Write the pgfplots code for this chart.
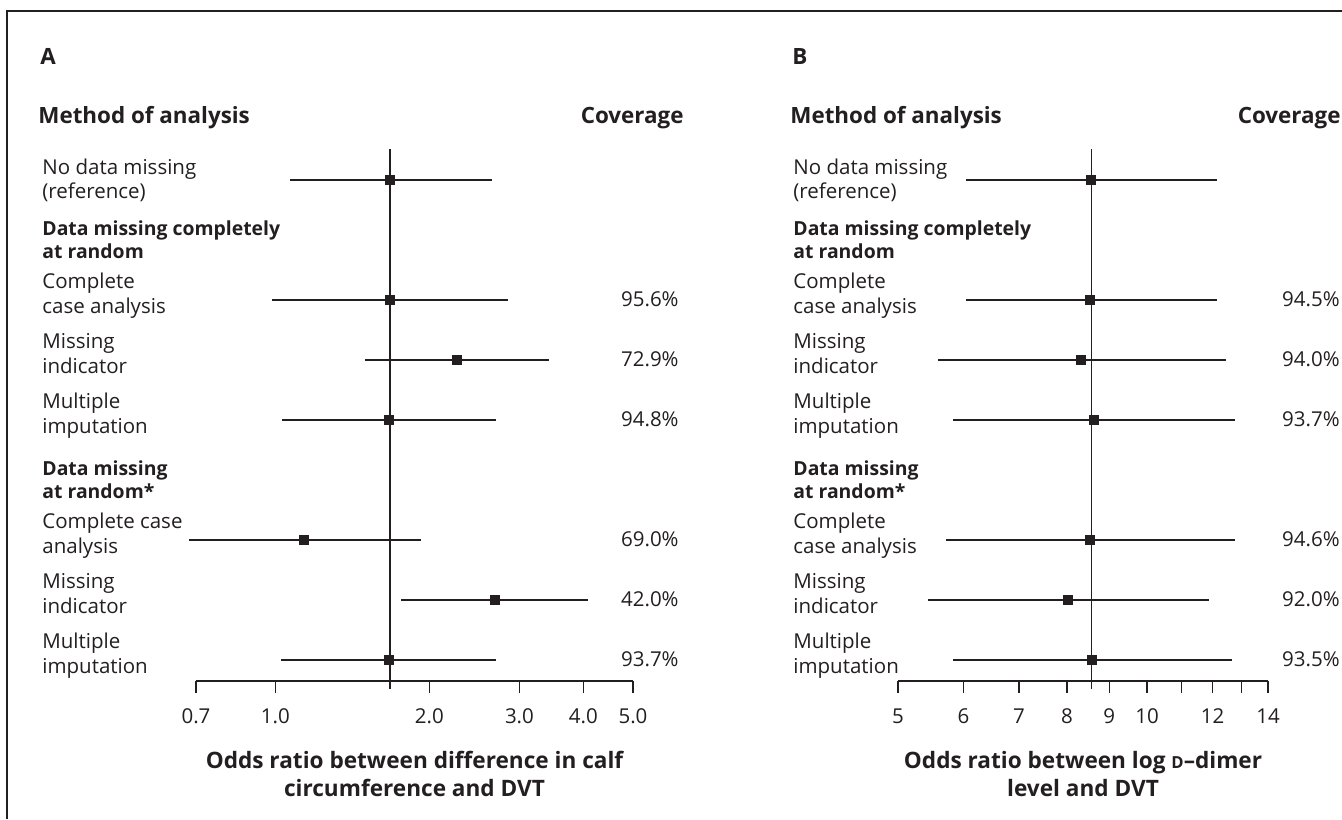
\documentclass[border=0pt]{standalone}
\usepackage{pgfplots}
\pgfplotsset{compat=1.18}
\usepackage{pgfplotstable}
\usepackage{fontspec}
\setmainfont{Open Sans}
\definecolor{ink}{HTML}{231F20}

% y = row position, lo / pt / hi = odds ratio and 95% CI
\pgfplotstableread{
y lo pt hi
8.35 1.068 1.677 2.655
6.35 0.987 1.677 2.845
5.35 1.497 2.265 3.426
4.35 1.031 1.667 2.699
2.35 0.678 1.138 1.926
1.35 1.760 2.687 4.083
0.35 1.024 1.667 2.699
}\dataA

\pgfplotstableread{
y lo pt hi
8.35 6.04 8.556 12.15
6.35 6.04 8.53 12.15
5.35 5.59 8.32 12.46
4.35 5.83 8.63 12.77
2.35 5.71 8.53 12.77
1.35 5.44 8.02 11.88
0.35 5.82 8.58 12.65
}\dataB

\newcommand{\tf}{\fontsize{10.25}{12}\selectfont}
\newcommand{\rbf}{\fontsize{9.7}{12}\selectfont\bfseries}
\newcommand{\hf}{\fontsize{11.2}{13}\selectfont\bfseries}
\newcommand{\lf}{\fontsize{11.3}{14}\selectfont\bfseries}

\begin{document}
\begin{tikzpicture}
\begin{scope}[x=0.5pt,y=-0.5pt]
\useasboundingbox (0,0) rectangle (1342,819);
\draw[line width=0.6pt, ink] (7,819) -- (7,11) -- (1342,11);
\tf\color{ink}
% ---- Panel A text
\node[anchor=base west, inner sep=0, font=\hf] at (40,64) {A};
\node[anchor=base west, inner sep=0, font=\hf] at (38,123) {Method of analysis};
\node[anchor=base east, inner sep=0, font=\hf] at (684,123) {Coverage};
\node[anchor=base west, inner sep=0] at (42,174) {No data missing};
\node[anchor=base west, inner sep=0] at (42,198) {(reference)};
\node[anchor=base west, inner sep=0, font=\rbf] at (42,235) {Data missing completely};
\node[anchor=base west, inner sep=0, font=\rbf] at (42,258) {at random};
\node[anchor=base west, inner sep=0] at (42,288) {Complete};
\node[anchor=base west, inner sep=0] at (42,313) {case analysis};
\node[anchor=base west, inner sep=0] at (42,348) {Missing};
\node[anchor=base west, inner sep=0] at (42,373) {indicator};
\node[anchor=base west, inner sep=0] at (42,408) {Multiple};
\node[anchor=base west, inner sep=0] at (42,433) {imputation};
\node[anchor=base west, inner sep=0, font=\rbf] at (42,475) {Data missing};
\node[anchor=base west, inner sep=0, font=\rbf] at (42,498) {at random*};
\node[anchor=base west, inner sep=0] at (42,528) {Complete case};
\node[anchor=base west, inner sep=0] at (42,553) {analysis};
\node[anchor=base west, inner sep=0] at (42,588) {Missing};
\node[anchor=base west, inner sep=0] at (42,613) {indicator};
\node[anchor=base west, inner sep=0] at (42,648) {Multiple};
\node[anchor=base west, inner sep=0] at (42,673) {imputation};
\foreach \yy/\tt in {306/95.6, 366/72.9, 426/94.8, 546/69.0, 606/42.0, 666/93.7}
  \node[anchor=base east, inner sep=0] at (679,\yy) {\tt\%};
% ---- Panel B text
\node[anchor=base west, inner sep=0, font=\hf] at (792,64) {B};
\node[anchor=base west, inner sep=0, font=\hf] at (790,123) {Method of analysis};
\node[anchor=base east, inner sep=0, font=\hf] at (1341,123) {Coverage};
\node[anchor=base west, inner sep=0] at (793,174) {No data missing};
\node[anchor=base west, inner sep=0] at (793,198) {(reference)};
\node[anchor=base west, inner sep=0, font=\rbf] at (793,235) {Data missing completely};
\node[anchor=base west, inner sep=0, font=\rbf] at (793,258) {at random};
\node[anchor=base west, inner sep=0] at (793,288) {Complete};
\node[anchor=base west, inner sep=0] at (793,313) {case analysis};
\node[anchor=base west, inner sep=0] at (793,348) {Missing};
\node[anchor=base west, inner sep=0] at (793,373) {indicator};
\node[anchor=base west, inner sep=0] at (793,408) {Multiple};
\node[anchor=base west, inner sep=0] at (793,433) {imputation};
\node[anchor=base west, inner sep=0, font=\rbf] at (793,475) {Data missing};
\node[anchor=base west, inner sep=0, font=\rbf] at (793,498) {at random*};
\node[anchor=base west, inner sep=0] at (793,528) {Complete};
\node[anchor=base west, inner sep=0] at (793,553) {case analysis};
\node[anchor=base west, inner sep=0] at (793,588) {Missing};
\node[anchor=base west, inner sep=0] at (793,613) {indicator};
\node[anchor=base west, inner sep=0] at (793,648) {Multiple};
\node[anchor=base west, inner sep=0] at (793,673) {imputation};
\foreach \yy/\tt in {306/94.5, 366/94.0, 426/93.7, 546/94.6, 606/92.0, 666/93.5}
  \node[anchor=base east, inner sep=0] at (1340,\yy) {\tt\%};
\end{scope}

% ---- Panel A axis
\begin{axis}[xmode=log, scale only axis, clip=false,
  at={(98pt,-340.5pt)}, anchor=south west,
  width=218.5pt, height=266.1pt, xmin=0.7, xmax=5, ymin=0, ymax=8.87,
  axis x line=bottom, axis y line=none,
  x axis line style={-, line width=0.75pt, draw=ink},
  tick align=outside, major tick length=6pt,
  every tick/.style={line width=0.75pt, draw=ink},
  minor xtick={},
  xtick={0.7,1,2,3,4,5}, xticklabels={0.7,1.0,2.0,3.0,4.0,5.0},
  xticklabel style={font=\tf, text=ink, inner sep=0pt, yshift=-7.5pt},
  xlabel={Odds ratio between difference in calf\\circumference and DVT},
  xlabel style={font=\lf, text=ink, align=center, inner sep=0pt,
    at={(axis description cs:0.5,0)}, anchor=north, yshift=-35pt},
]
\draw[line width=0.75pt, ink] (axis cs:1.677,-0.13) -- (axis cs:1.677,8.87);
\addplot[only marks, mark=square*, mark size=2.25pt, color=ink,
  error bars/.cd, x dir=both, x explicit, error mark=none,
  error bar style={line width=0.75pt, ink}]
  table[x=pt, y=y, x error plus expr=\thisrow{hi}-\thisrow{pt},
        x error minus expr=\thisrow{pt}-\thisrow{lo}] {\dataA};
\end{axis}

% ---- Panel B axis
\begin{axis}[xmode=log, scale only axis, clip=false,
  at={(449pt,-340.5pt)}, anchor=south west,
  width=185pt, height=266.1pt, xmin=5, xmax=14, ymin=0, ymax=8.87,
  axis x line=bottom, axis y line=none,
  x axis line style={-, line width=0.75pt, draw=ink},
  tick align=outside, major tick length=6pt,
  every tick/.style={line width=0.75pt, draw=ink},
  minor xtick={},
  xtick={5,6,7,8,9,10,11,12,13,14}, xticklabels={5,6,7,8,9,10,{},12,{},14},
  xticklabel style={font=\tf, text=ink, inner sep=0pt, yshift=-7.5pt},
  xlabel={Odds ratio between log {\fontsize{8.3}{10}\selectfont D}--dimer\\level and DVT},
  xlabel style={font=\lf, text=ink, align=center, inner sep=0pt,
    at={(axis description cs:0.5,0)}, anchor=north, yshift=-35pt},
]
\draw[line width=0.75pt, ink] (axis cs:8.57,-0.13) -- (axis cs:8.57,8.87);
\addplot[only marks, mark=square*, mark size=2.25pt, color=ink,
  error bars/.cd, x dir=both, x explicit, error mark=none,
  error bar style={line width=0.75pt, ink}]
  table[x=pt, y=y, x error plus expr=\thisrow{hi}-\thisrow{pt},
        x error minus expr=\thisrow{pt}-\thisrow{lo}] {\dataB};
\end{axis}
\end{tikzpicture}
\end{document}
